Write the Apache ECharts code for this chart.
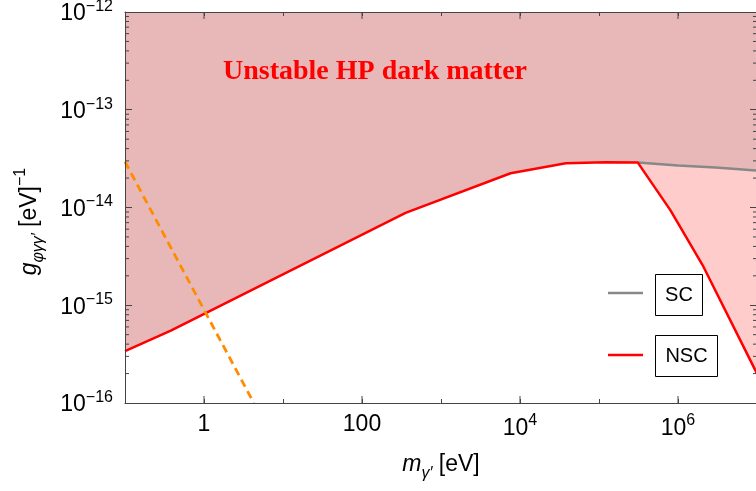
<!DOCTYPE html>
<html><head><meta charset="utf-8">
<script src="https://cdn.jsdelivr.net/npm/echarts@6/dist/echarts.min.js"></script>
<style>html,body{margin:0;padding:0;background:#fff}#c{width:756px;height:491px}</style>
</head><body><div id="c"></div>
<script>
// Axis ranges
const xMin = 0.1, xMax = 1e7, yMin = 1e-16, yMax = 1e-12;
// NSC boundary (red)
const nscX = [0.1, 0.38, 356, 7600, 3.8e4, 1.2e5, 3.1e5, 8e5, 2.1e6, 1e7];
const nscY = [3.4e-16, 5.5e-16, 8.8e-15, 2.24e-14, 2.83e-14, 2.9e-14, 2.88e-14, 9.4e-15, 2.48e-15, 2.0e-16];
// SC boundary (gray)
const scX = [3.1e5, 1e6, 3e6, 1e7];
const scY = [2.88e-14, 2.69e-14, 2.56e-14, 2.38e-14];
// Orange dashed line
const dashX = [0.1, 4.27];
const dashY = [2.94e-14, 1e-16];
// Tick labels
const xLabelValues = [1, 100, 1e4, 1e6];
const xLabelTexts = ['{p|1}', '{p|100}', '{b|10}{s|4}', '{b|10}{s|6}'];
const yLabelValues = [1e-16, 1e-15, 1e-14, 1e-13, 1e-12];
const yLabelTexts = ['{b|10}{s|−16}', '{b|10}{s|−15}', '{b|10}{s|−14}', '{b|10}{s|−13}', '{b|10}{s|−12}'];
const yMinorFactors = [2, 3, 4, 5, 6, 7, 8, 9];

const FONT = 'Liberation Sans';
const AX = '#444';

// Derived polygons
const darkX = [], darkY = [];
nscX.forEach((x, i) => { if (x <= scX[0]) { darkX.push(x); darkY.push(nscY[i]); } });
scX.forEach((x, i) => { if (i > 0) { darkX.push(x); darkY.push(scY[i]); } });
darkX.push(xMax, xMin); darkY.push(yMax, yMax);

const pinkX = scX.slice(), pinkY = scY.slice();
for (let i = nscX.length - 1; i >= 0; i--) {
  if (nscX[i] >= scX[0]) { pinkX.push(nscX[i]); pinkY.push(nscY[i]); }
}

const yMinor = [];
for (let e = -16; e < -12; e++) yMinorFactors.forEach(k => yMinor.push(k * Math.pow(10, e)));

function expOf(v) { return Math.round(Math.log10(v)); }
function fmtX(v) {
  const i = xLabelValues.findIndex(t => expOf(t) === expOf(v));
  return i >= 0 ? xLabelTexts[i] : '';
}
function fmtY(v) {
  const i = yLabelValues.findIndex(t => expOf(t) === expOf(v));
  return i >= 0 ? yLabelTexts[i] : '';
}

const labelRich = {
  p: { fontSize: 23, fontFamily: FONT, color: '#000', lineHeight: 23 },
  b: { fontSize: 23, fontFamily: FONT, color: '#000', lineHeight: 27, verticalAlign: 'bottom' },
  s: { fontSize: 16, fontFamily: FONT, color: '#000', lineHeight: 16, verticalAlign: 'top' }
};
const nameRich = {
  i: { fontSize: 23, fontFamily: FONT, fontStyle: 'italic', color: '#000', lineHeight: 34, verticalAlign: 'middle' },
  n: { fontSize: 23, fontFamily: FONT, color: '#000', lineHeight: 34, verticalAlign: 'middle' },
  sub: { fontSize: 16, fontFamily: FONT, fontStyle: 'italic', color: '#000', lineHeight: 16, verticalAlign: 'bottom' },
  sup: { fontSize: 16, fontFamily: FONT, color: '#000', lineHeight: 16, verticalAlign: 'top' }
};

function polySeries(name, xs, ys, color) {
  return {
    type: 'custom', name, coordinateSystem: 'cartesian2d', silent: true, z: 1,
    data: [[xs[0], ys[0]]],
    renderItem(params, api) {
      const pts = xs.map((x, i) => api.coord([x, ys[i]]));
      return { type: 'polygon', shape: { points: pts }, style: { fill: color } };
    }
  };
}

const chart = echarts.init(document.getElementById('c'), null, { renderer: 'canvas' });
const baseX = {
  type: 'log', logBase: 10, min: xMin, max: xMax, z: 10,
  axisLine: { show: true, lineStyle: { color: AX, width: 1 } },
  axisTick: { show: true, inside: true, length: 4, lineStyle: { color: AX } },
  splitLine: { show: false }, minorTick: { show: false }
};
const baseY = {
  type: 'log', logBase: 10, min: yMin, max: yMax, z: 10,
  axisLine: { show: true, lineStyle: { color: AX, width: 1 } },
  axisTick: { show: true, inside: true, length: 7, lineStyle: { color: AX } },
  splitLine: { show: false }, minorTick: { show: false }
};

chart.setOption({
  animation: false,
  grid: { left: 125, top: 12, width: 632, height: 391, containLabel: false, outerBoundsMode: 'none' },
  xAxis: [
    Object.assign({}, baseX, {
      position: 'bottom',
      axisLabel: { formatter: fmtX, margin: 10, rich: labelRich },
      name: '{i|m}{sub|γ′}{n| [eV]}', nameLocation: 'middle', nameGap: 45,
      nameTextStyle: { rich: nameRich }
    }),
    Object.assign({}, baseX, { position: 'top', axisLabel: { show: false } })
  ],
  yAxis: [
    Object.assign({}, baseY, {
      position: 'left',
      axisLabel: { formatter: fmtY, margin: 12, rich: labelRich },
      name: '{i|g}{sub|φγγ′}{n| [eV]}{sup|−1}', nameLocation: 'middle', nameGap: 78, nameRotate: 90,
      nameTextStyle: { rich: nameRich, padding: [0, 28, 0, 0] }
    }),
    Object.assign({}, baseY, { position: 'right', axisLabel: { show: false } })
  ],
  series: [
    polySeries('dark', darkX, darkY, 'rgb(232,184,184)'),
    polySeries('pink', pinkX, pinkY, 'rgb(255,204,204)'),
    {
      type: 'line', name: 'SC', symbol: 'none', z: 3,
      data: scX.map((x, i) => [x, scY[i]]),
      lineStyle: { color: '#888888', width: 2.5 }
    },
    {
      type: 'line', name: 'NSC', symbol: 'none', z: 4,
      data: nscX.map((x, i) => [x, nscY[i]]),
      lineStyle: { color: '#ff0000', width: 2.5 }
    },
    {
      type: 'line', name: 'decay', symbol: 'none', z: 4,
      data: dashX.map((x, i) => [x, dashY[i]]),
      lineStyle: { color: '#ff8c00', width: 2.8, type: [8, 5] }
    },
    {
      type: 'custom', name: 'yMinorTicks', coordinateSystem: 'cartesian2d', silent: true, z: 6, clip: false,
      data: yMinor.map(v => [xMin, v]),
      renderItem(params, api) {
        const p = api.coord([xMin, api.value(1)]);
        const q = api.coord([xMax, api.value(1)]);
        return { type: 'group', children: [
          { type: 'line', shape: { x1: p[0], y1: p[1], x2: p[0] + 4, y2: p[1] }, style: { stroke: AX, lineWidth: 1 } },
          { type: 'line', shape: { x1: q[0], y1: q[1], x2: q[0] - 4, y2: q[1] }, style: { stroke: AX, lineWidth: 1 } }
        ] };
      }
    },
    {
      type: 'custom', name: 'xMajorTicks', coordinateSystem: 'cartesian2d', silent: true, z: 6, clip: false,
      data: xLabelValues.map(v => [v, yMin]),
      renderItem(params, api) {
        const p = api.coord([api.value(0), yMin]);
        const q = api.coord([api.value(0), yMax]);
        return { type: 'group', children: [
          { type: 'line', shape: { x1: p[0], y1: p[1], x2: p[0], y2: p[1] - 7 }, style: { stroke: AX, lineWidth: 1 } },
          { type: 'line', shape: { x1: q[0], y1: q[1], x2: q[0], y2: q[1] + 7 }, style: { stroke: AX, lineWidth: 1 } }
        ] };
      }
    }
  ],
  graphic: [
    { type: 'text', z: 20, style: { x: 375, y: 72, text: 'Unstable HP dark matter', fill: '#ff0000',
      font: 'bold 28px "Liberation Serif"', textAlign: 'center', textVerticalAlign: 'middle' } },
    { type: 'line', z: 20, shape: { x1: 608, y1: 293, x2: 643, y2: 293 }, style: { stroke: '#888888', lineWidth: 2.5 } },
    { type: 'rect', z: 20, shape: { x: 655.5, y: 274.5, width: 47, height: 41 }, style: { fill: '#fff', stroke: '#000', lineWidth: 1 } },
    { type: 'text', z: 21, style: { x: 679, y: 295, text: 'SC', fill: '#000', font: '20px "Liberation Sans"', textAlign: 'center', textVerticalAlign: 'middle' } },
    { type: 'line', z: 20, shape: { x1: 608, y1: 355, x2: 643, y2: 355 }, style: { stroke: '#ff0000', lineWidth: 2.5 } },
    { type: 'rect', z: 20, shape: { x: 655.5, y: 335.5, width: 62, height: 41 }, style: { fill: '#fff', stroke: '#000', lineWidth: 1 } },
    { type: 'text', z: 21, style: { x: 686.5, y: 356, text: 'NSC', fill: '#000', font: '20px "Liberation Sans"', textAlign: 'center', textVerticalAlign: 'middle' } }
  ]
});
</script>
</body></html>
